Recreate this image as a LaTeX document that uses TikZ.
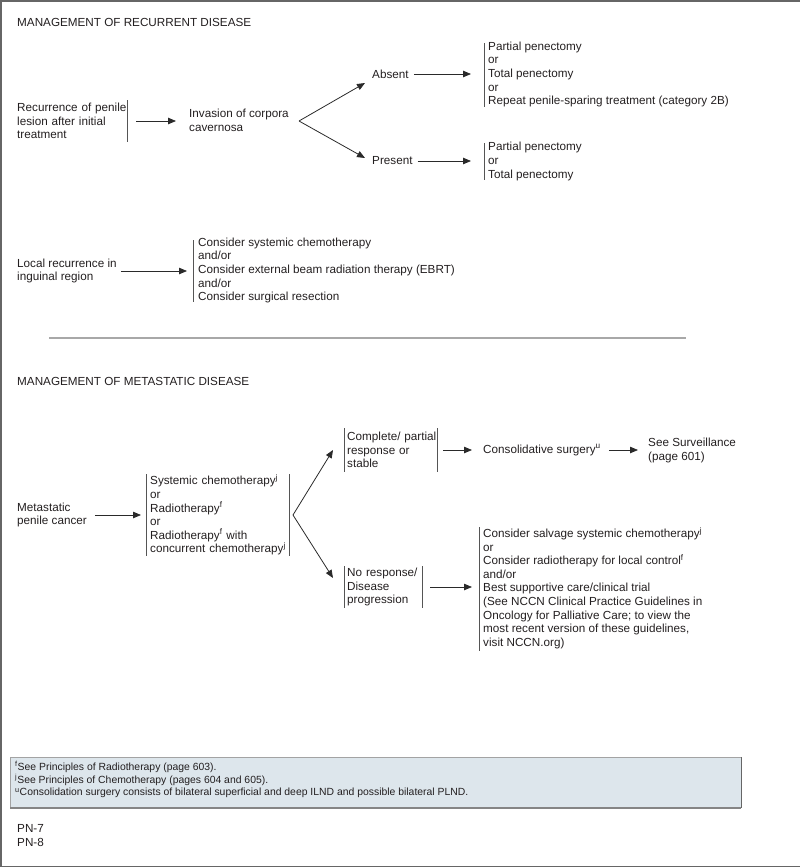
\documentclass[tikz,border=0pt]{standalone}
\usepackage{fontspec}
\setmainfont{Liberation Sans}
\usetikzlibrary{arrows.meta}
\definecolor{txt}{HTML}{231F20}
\definecolor{linec}{HTML}{2A2A2A}
\definecolor{barc}{HTML}{555555}
\definecolor{framec}{HTML}{666666}
\definecolor{sepc}{HTML}{A8A8A8}
\definecolor{fnfill}{HTML}{DDE6EC}
\newcommand\mb[1]{\mbox{#1}}
\begin{document}
\begin{tikzpicture}[x=1pt,y=-1pt,
  every node/.style={font=\fontsize{11.7}{13.6}\selectfont, text=txt, inner sep=0pt, anchor=west, align=left},
  fn/.style={font=\fontsize{10.4}{13}\selectfont},
  arr/.style={draw=linec, line width=0.8pt, -{Triangle[length=8pt,width=6.5pt]}},
  bar/.style={draw=barc, line width=0.9pt}]
\useasboundingbox (0,0) rectangle (800,868);
% frame
\draw[framec, line width=1.5pt] (800,0.75) -- (1,0.75) -- (1,866.5) -- (800,866.5);

% ---------- recurrent disease ----------
\node (t1) at (17,22) {MANAGEMENT OF RECURRENT DISEASE};

\node[inner xsep=3pt, text width=107pt] (rec) at (14,121) {\mb{Recurrence of penile}\\\mb{lesion after initial}\\\mb{treatment}};
\draw[bar] ([yshift=21pt]rec.east) -- ([yshift=-21pt]rec.east);

\node (inv) at (189,120.5) {Invasion of corpora\\cavernosa};
\draw[arr, shorten <=9pt, shorten >=13pt] (rec.east) -- (rec.east -| inv.west);

\coordinate (br1) at (299,121);
\node (abs) at (372,74) {Absent};
\node (pre) at (372,161) {Present};
\coordinate (a1) at (365,83);
\coordinate (a2) at (365,158);
\draw[arr] (br1) -- (a1);
\draw[arr] (br1) -- (a2);

\node[inner xsep=4pt] (absout) at (484,74.5) {Partial penectomy\\or\\Total penectomy\\or\\Repeat penile-sparing treatment (category 2B)};
\draw[bar] (484,43) -- (484,107);
\draw[arr, shorten <=5pt, shorten >=13pt] (abs.east) -- (abs.east -| absout.west);

\node[inner xsep=4pt] (preout) at (484,161.5) {Partial penectomy\\or\\Total penectomy};
\draw[bar] (484,143) -- (484,180);
\draw[arr, shorten <=5pt, shorten >=13pt] (pre.east) -- (pre.east -| preout.west);

\node (loc) at (17,271) {Local recurrence in\\inguinal region};
\node[inner xsep=5pt] (locout) at (193,270.5) {Consider systemic chemotherapy\\and/or\\Consider external beam radiation therapy (EBRT)\\and/or\\Consider surgical resection};
\draw[bar] (193,240) -- (193,302);
\draw[arr, shorten <=4pt, shorten >=6pt] (loc.east) -- (loc.east -| locout.west);

% separator
\draw[sepc, line width=1.2pt] (49,338) -- (686,338);

% ---------- metastatic disease ----------
\node (t2) at (17,381) {MANAGEMENT OF METASTATIC DISEASE};

\node (met) at (17,515) {Metastatic\\penile cancer};
\node[inner xsep=4pt, text width=135pt] (sys) at (146,515) {\mb{Systemic chemotherapy\textsuperscript{j}}\\or\\\mb{Radiotherapy\textsuperscript{f}}\\or\\\mb{Radiotherapy\textsuperscript{f} with}\\\mb{concurrent chemotherapy\textsuperscript{j}}};
\draw[bar] ([yshift=41pt]sys.west) -- ([yshift=-41pt]sys.west);
\draw[bar] ([yshift=41pt]sys.east) -- ([yshift=-41pt]sys.east);
\draw[arr, shorten <=8pt, shorten >=5pt] (met.east) -- (met.east -| sys.west);

\coordinate (br2) at (293,515);
\node[inner xsep=3pt, text width=87pt] (comp) at (344,450) {\mb{Complete/ partial}\\\mb{response or}\\\mb{stable}};
\draw[bar] ([yshift=22pt]comp.west) -- ([yshift=-22pt]comp.west);
\draw[bar] ([yshift=22pt]comp.east) -- ([yshift=-22pt]comp.east);
\node[inner xsep=3pt, text width=72pt] (nores) at (344,587) {\mb{No response/}\\\mb{Disease}\\\mb{progression}};
\draw[bar] ([yshift=21pt]nores.west) -- ([yshift=-21pt]nores.west);
\draw[bar] ([yshift=21pt]nores.east) -- ([yshift=-21pt]nores.east);
\coordinate (b1) at (333,450);
\coordinate (b2) at (333,578);
\draw[arr] (br2) -- (b1);
\draw[arr] (br2) -- (b2);

\node (cons) at (483,450) {Consolidative surgery\textsuperscript{u}};
\draw[arr, shorten <=6pt, shorten >=11pt] (comp.east) -- (comp.east -| cons.west);
\node (surv) at (648,450.5) {See Surveillance\\(page 601)};
\draw[arr, shorten <=8pt, shorten >=10pt] (cons.east) -- (cons.east -| surv.west);

\node[inner xsep=4pt] (salv) at (479,588) {Consider salvage systemic chemotherapy\textsuperscript{j}\\or\\Consider radiotherapy for local control\textsuperscript{f}\\and/or\\Best supportive care/clinical trial\\(See NCCN Clinical Practice Guidelines in\\Oncology for Palliative Care; to view the\\most recent version of these guidelines,\\visit NCCN.org)};
\draw[bar] (479,527) -- (479,651);
\draw[arr, shorten <=8pt, shorten >=7pt] (nores.east) -- (nores.east -| salv.west);

% ---------- footnotes ----------
\fill[fnfill] (10,757) rectangle (741,808);
\draw[framec!60, line width=0.8pt] (10,808) -- (10,757) -- (741,757);
\draw[framec, line width=1pt] (741,757) -- (741,808);
\draw[framec!80, line width=1.6pt] (10,808) -- (741,808);
\node[fn] (fn1) at (15,767) {\textsuperscript{f}See Principles of Radiotherapy (page 603).};
\node[fn] (fn2) at (15,780) {\textsuperscript{j}See Principles of Chemotherapy (pages 604 and 605).};
\node[fn] (fn3) at (15,793) {\textsuperscript{u}Consolidation surgery consists of bilateral superficial and deep ILND and possible bilateral PLND.};

\node (pn) at (17,835.5) {PN-7\\PN-8};
\end{tikzpicture}
\end{document}
